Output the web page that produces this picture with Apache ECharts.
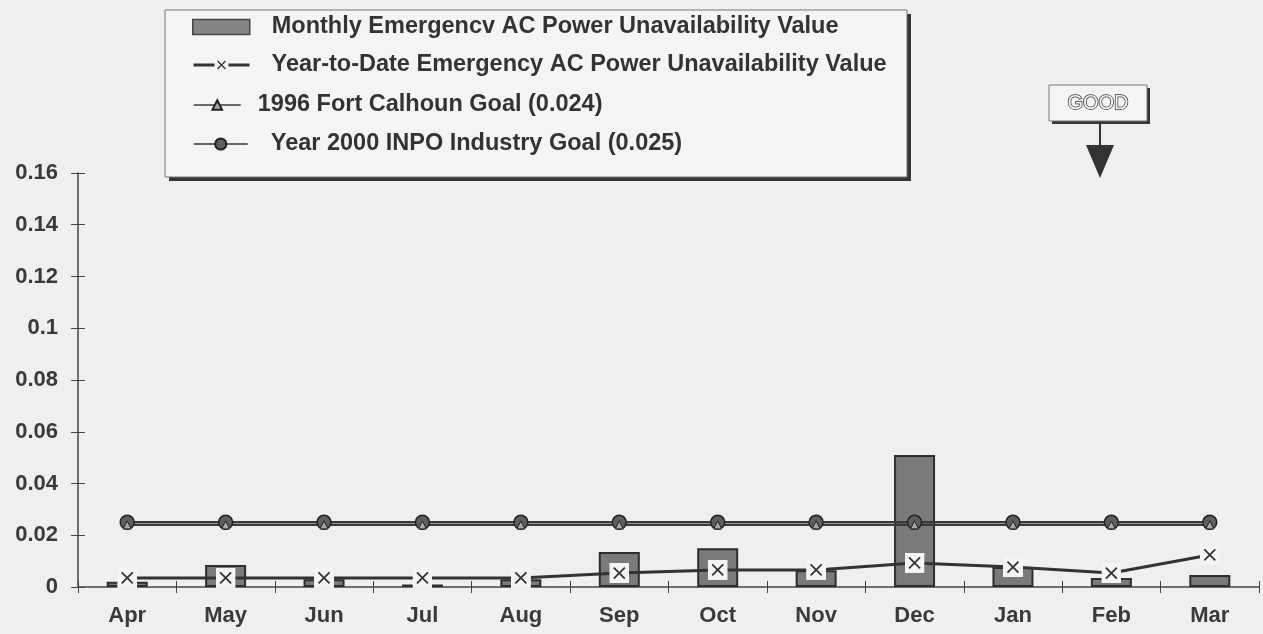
<!DOCTYPE html>
<html>
<head>
<meta charset="utf-8">
<title>Emergency AC Power Unavailability</title>
<script src="https://cdn.jsdelivr.net/npm/echarts@6/dist/echarts.min.js"></script>
<style>
html, body { margin: 0; padding: 0; background: #efefef; }
#chart { width: 1263px; height: 634px; }
</style>
</head>
<body>
<div id="chart"></div>
<script>
// data
const months = ['Apr', 'May', 'Jun', 'Jul', 'Aug', 'Sep', 'Oct', 'Nov', 'Dec', 'Jan', 'Feb', 'Mar'];
const monthlyValues = [0.002, 0.0085, 0.003, 0.001, 0.003, 0.0135, 0.015, 0.0065, 0.051, 0.0077, 0.0035, 0.0046];
const ytdValues = [0.0035, 0.0035, 0.0035, 0.0035, 0.0035, 0.0054, 0.0066, 0.0066, 0.0093, 0.0077, 0.0054, 0.0124];
const fcsGoal = [0.024, 0.024, 0.024, 0.024, 0.024, 0.024, 0.024, 0.024, 0.024, 0.024, 0.024, 0.024];
const inpoGoal = [0.025, 0.025, 0.025, 0.025, 0.025, 0.025, 0.025, 0.025, 0.025, 0.025, 0.025, 0.025];
const legendNames = [
  'Monthly Emergencv AC Power Unavailability Value',
  'Year-to-Date Emergency AC Power Unavailability Value',
  '1996 Fort Calhoun Goal (0.024)',
  'Year 2000 INPO Industry Goal (0.025)'
];
const yMin = 0, yMax = 0.16, yStep = 0.02;

const font = 'Liberation Sans, Arial, sans-serif';
const ink = '#333';
// white box with an x in it, like the scanned marker
const xMark = 'image://data:image/svg+xml;charset=utf-8,' + encodeURIComponent(
  "<svg xmlns='http://www.w3.org/2000/svg' width='40' height='40' viewBox='0 0 20 20'>" +
  "<rect width='20' height='20' fill='#f4f4f4'/>" +
  "<path d='M4.5 4.5L15.5 15.5M15.5 4.5L4.5 15.5' stroke='#333' stroke-width='1.8'/></svg>");

const chart = echarts.init(document.getElementById('chart'));

const legendText = (pad) => ({
  fontSize: 23.5,
  fontWeight: 'bold',
  fontFamily: font,
  color: ink,
  padding: pad
});

// framed box with a hard drop shadow (back plate + front plate)
const shadowBox = (x, y, w, h, off) => [
  {
    type: 'rect', z: -2,
    shape: { x: x + off, y: y + off, width: w, height: h },
    style: { fill: '#353535' }
  },
  {
    type: 'rect', z: -1,
    shape: { x: x, y: y, width: w, height: h },
    style: { fill: '#f4f4f4', stroke: '#777', lineWidth: 1 }
  }
];

const options = {
  backgroundColor: '#efefef',
  animation: false,
  grid: { left: 78, right: 4, top: 173, bottom: 47 },
  legend: [
    {
      data: [{ name: legendNames[0], icon: 'rect' }], left: 192, top: 15, padding: 0, selectedMode: false,
      itemWidth: 57, itemHeight: 15, itemStyle: { color: '#858585', borderColor: '#444', borderWidth: 1.5 },
      textStyle: legendText([0, 0, 9, 17])
    },
    {
      data: [legendNames[1]], left: 192, top: 53, padding: 0, selectedMode: false,
      itemWidth: 56, itemHeight: 18, lineStyle: { width: 3 }, textStyle: legendText([0, 0, 8, 17])
    },
    {
      data: [legendNames[2]], left: 193, top: 93, padding: 0, selectedMode: false,
      itemWidth: 47, itemHeight: 12, lineStyle: { width: 1.5 }, textStyle: legendText([0, 0, 4, 12])
    },
    {
      data: [legendNames[3]], left: 193, top: 132, padding: 0, selectedMode: false,
      itemWidth: 54, itemHeight: 14, lineStyle: { width: 1.5 }, textStyle: legendText([0, 0, 12, 18])
    }
  ],
  xAxis: [
    {
      type: 'category',
      data: months,
      boundaryGap: true,
      axisLine: { lineStyle: { color: '#444', width: 1.5 } },
      axisTick: { show: true, length: 6, lineStyle: { color: '#444' } },
      axisLabel: { fontSize: 22, fontWeight: 'bold', fontFamily: font, color: '#3a3a3a', margin: 18 }
    },
    {
      type: 'category',
      data: months,
      position: 'bottom',
      boundaryGap: true,
      axisLine: { show: false },
      axisTick: { show: true, inside: true, length: 6, lineStyle: { color: '#444' } },
      axisLabel: { show: false }
    }
  ],
  yAxis: [
    {
      type: 'value',
      min: yMin,
      max: yMax,
      interval: yStep,
      axisLine: { show: true, lineStyle: { color: '#444', width: 1.5 } },
      axisTick: { show: true, length: 7, lineStyle: { color: '#444' } },
      splitLine: { show: false },
      axisLabel: { fontSize: 22, fontWeight: 'bold', fontFamily: font, color: '#3a3a3a', margin: 20 }
    },
    {
      type: 'value',
      min: yMin,
      max: yMax,
      interval: yStep,
      position: 'left',
      axisLine: { show: false },
      axisTick: { show: true, inside: true, length: 7, lineStyle: { color: '#444' } },
      splitLine: { show: false },
      axisLabel: { show: false }
    }
  ],
  series: [
    {
      name: legendNames[0],
      type: 'bar',
      data: monthlyValues,
      barWidth: 41,
      z: 2,
      itemStyle: { color: '#7a7a7a', borderColor: '#2e2e2e', borderWidth: 2 }
    },
    {
      name: legendNames[3],
      type: 'line',
      data: inpoGoal,
      symbol: 'circle',
      symbolSize: 14,
      z: 3,
      lineStyle: { color: '#3a3a3a', width: 2.5 },
      itemStyle: { color: '#5e5e5e', borderColor: '#222', borderWidth: 1.5 }
    },
    {
      name: legendNames[2],
      type: 'line',
      data: fcsGoal,
      symbol: 'triangle',
      symbolSize: 8,
      z: 3,
      lineStyle: { color: '#3a3a3a', width: 2 },
      itemStyle: { color: '#a8a8a8', borderColor: '#222', borderWidth: 1 }
    },
    {
      name: legendNames[1],
      type: 'line',
      data: ytdValues,
      symbol: xMark,
      symbolSize: 20,
      z: 4,
      lineStyle: { color: ink, width: 3 },
      itemStyle: { color: ink }
    }
  ],
  graphic: [
    ...shadowBox(165, 10, 742, 167, 4),
    ...shadowBox(1049, 85, 98, 36, 3),
    {
      type: 'text',
      x: 1098,
      y: 103,
      style: {
        text: 'GOOD', fontSize: 20, fontFamily: font, fill: '#f4f4f4',
        stroke: '#333', lineWidth: 1.5, align: 'center', verticalAlign: 'middle'
      }
    },
    {
      type: 'line',
      shape: { x1: 1100, y1: 124, x2: 1100, y2: 146 },
      style: { stroke: ink, lineWidth: 2 }
    },
    {
      type: 'polygon',
      shape: { points: [[1086, 145], [1114, 145], [1100, 178]] },
      style: { fill: ink }
    }
  ]
};

chart.setOption(options);
window.addEventListener('resize', function () {
  chart && chart.resize();
});
</script>
</body>
</html>
